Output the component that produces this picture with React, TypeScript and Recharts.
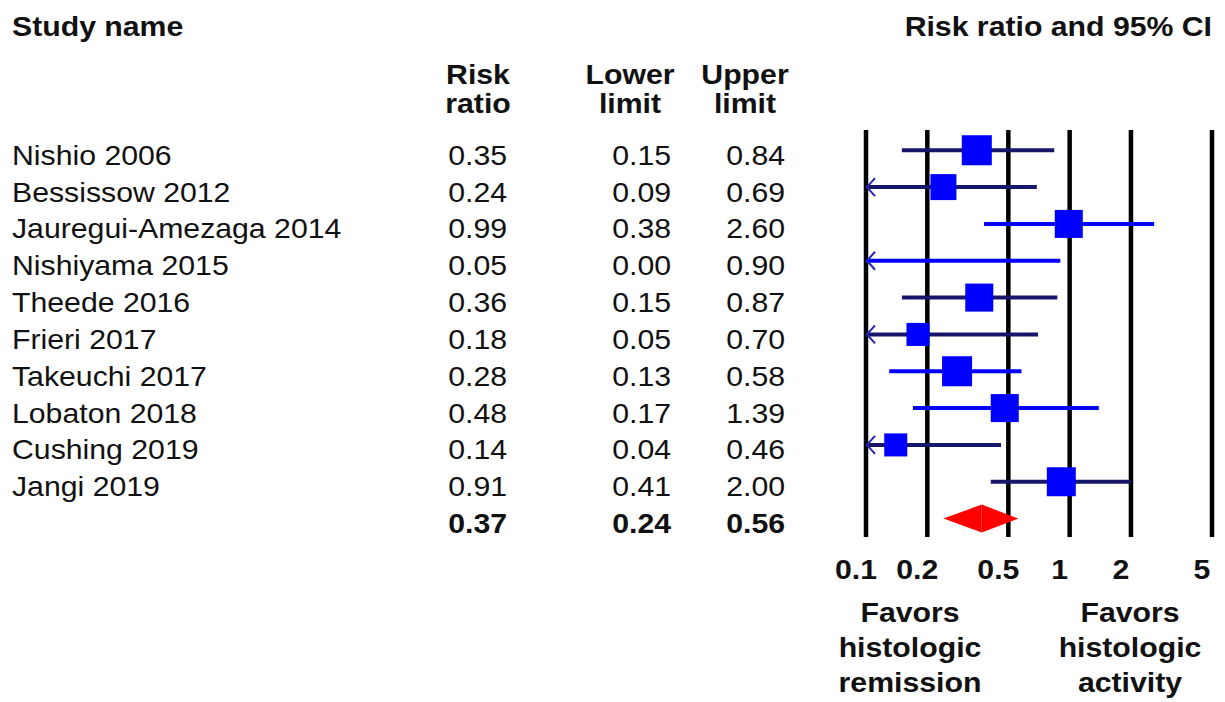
import React from 'react';
import {
  ComposedChart,
  Scatter,
  XAxis,
  YAxis,
  CartesianGrid,
  ReferenceLine,
} from 'recharts';

// study rows
const studyNames = [
  'Nishio 2006',
  'Bessissow 2012',
  'Jauregui-Amezaga 2014',
  'Nishiyama 2015',
  'Theede 2016',
  'Frieri 2017',
  'Takeuchi 2017',
  'Lobaton 2018',
  'Cushing 2019',
  'Jangi 2019',
];
const riskRatios = [0.35, 0.24, 0.99, 0.05, 0.36, 0.18, 0.28, 0.48, 0.14, 0.91];
const lowerLimits = [0.15, 0.09, 0.38, 0.0, 0.15, 0.05, 0.13, 0.17, 0.04, 0.41];
const upperLimits = [0.84, 0.69, 2.6, 0.9, 0.87, 0.7, 0.58, 1.39, 0.46, 2.0];
// relative study weights (%), drive the square size
const studyWeights = [13.1, 9.8, 11.4, 2.0, 11.4, 7.7, 13.1, 11.4, 7.7, 12.2];

// pooled estimate
const pooledRiskRatio = 0.37;
const pooledLower = 0.24;
const pooledUpper = 0.56;

const xTicks = [0.1, 0.2, 0.5, 1, 2, 5];

const X_MIN = 0.1;
const X_MAX = 5;
const FONT = "'Liberation Sans', Arial, Helvetica, sans-serif";
const SCALE_X = 1.08;
const BLUE = '#0000FF';
const NAVY = '#16166A';
// rows whose CI line looks darker in the original
const darkLineRows = [0, 1, 4, 5, 8, 9];

const summaryRow = studyNames.length;
const rowTicks = [...studyNames.map((_, i) => i), summaryRow];

const squares = riskRatios
  .map((rr, i) => ({ x: rr, y: i, w: studyWeights[i] }))
  .filter((d) => d.x >= X_MIN && d.x <= X_MAX);

const arrows = lowerLimits
  .map((lo, i) => ({ x: X_MIN, y: i, lo }))
  .filter((d) => d.lo < X_MIN);

function Label({ x, y, anchor = 'start', bold = false, children }: any) {
  return (
    <text
      transform={`translate(${x},${y}) scale(${SCALE_X},1)`}
      textAnchor={anchor}
      fontFamily={FONT}
      fontSize={28}
      fontWeight={bold ? 700 : 400}
      fill="#111"
    >
      {children}
    </text>
  );
}

function RowTick(props: any) {
  const { y, payload } = props;
  const i = payload.value;
  const isSummary = i === summaryRow;
  const rr = isSummary ? pooledRiskRatio : riskRatios[i];
  const lo = isSummary ? pooledLower : lowerLimits[i];
  const hi = isSummary ? pooledUpper : upperLimits[i];
  const base = y + 14.5;
  return (
    <g>
      {!isSummary && <Label x={12} y={base}>{studyNames[i]}</Label>}
      <Label x={507} y={base} anchor="end" bold={isSummary}>{rr.toFixed(2)}</Label>
      <Label x={671} y={base} anchor="end" bold={isSummary}>{lo.toFixed(2)}</Label>
      <Label x={785} y={base} anchor="end" bold={isSummary}>{hi.toFixed(2)}</Label>
    </g>
  );
}

function XTick(props: any) {
  const { x, y, payload } = props;
  return (
    <Label x={x - 10} y={y + 40} anchor="middle" bold>
      {String(payload.value)}
    </Label>
  );
}

function SquareShape(props: any) {
  const { cx, cy, payload } = props;
  const side = 8.3 * Math.sqrt(payload.w);
  return <rect x={cx - side / 2} y={cy - side / 2} width={side} height={side} fill={BLUE} />;
}

function ArrowShape(props: any) {
  const { cx, cy } = props;
  return (
    <path
      d={`M${cx + 9},${cy - 9} L${cx + 1},${cy} L${cx + 9},${cy + 9}`}
      stroke="#2424B8"
      strokeWidth={2}
      fill="none"
    />
  );
}

function DiamondLeft(props: any) {
  const { x1, y1, x2 } = props;
  return <polygon points={`${x1},${y1} ${x2},${y1 - 14} ${x2},${y1 + 14}`} fill="#FF0000" />;
}

function DiamondRight(props: any) {
  const { x1, y1, x2 } = props;
  return <polygon points={`${x1},${y1 - 14} ${x2},${y1} ${x1},${y1 + 14}`} fill="#FF0000" />;
}

export default function App() {
  return (
    <div style={{ position: 'absolute', left: 0, top: 0, width: 1225, height: 702, background: '#fff' }}>
      <ComposedChart width={1225} height={702} margin={{ top: 130, right: 13, bottom: 0, left: 0 }}>
        <CartesianGrid horizontal={false} stroke="#000" strokeWidth={4.5} />
        <XAxis
          dataKey="x"
          type="number"
          scale="log"
          domain={[X_MIN, X_MAX]}
          ticks={xTicks}
          interval={0}
          allowDataOverflow
          height={165}
          axisLine={false}
          tickLine={false}
          tickSize={0}
          tick={<XTick />}
        />
        <YAxis
          dataKey="y"
          type="number"
          domain={[-0.55, 10.5]}
          reversed
          ticks={rowTicks}
          interval={0}
          allowDataOverflow
          width={866}
          axisLine={false}
          tickLine={false}
          tickSize={0}
          tick={<RowTick />}
        />
        {studyNames.map((name, i) => (
          <ReferenceLine
            key={name}
            ifOverflow="visible"
            segment={[
              { x: Math.max(lowerLimits[i], X_MIN), y: i },
              { x: Math.min(upperLimits[i], X_MAX), y: i },
            ]}
            stroke={darkLineRows.includes(i) ? NAVY : BLUE}
            strokeWidth={4}
          />
        ))}
        <Scatter data={arrows} shape={<ArrowShape />} isAnimationActive={false} />
        <Scatter data={squares} shape={<SquareShape />} isAnimationActive={false} />
        <ReferenceLine
          ifOverflow="visible"
          segment={[
            { x: pooledLower, y: summaryRow },
            { x: pooledRiskRatio, y: summaryRow },
          ]}
          shape={DiamondLeft}
        />
        <ReferenceLine
          ifOverflow="visible"
          segment={[
            { x: pooledRiskRatio, y: summaryRow },
            { x: pooledUpper, y: summaryRow },
          ]}
          shape={DiamondRight}
        />
      </ComposedChart>
      <svg
        width={1225}
        height={702}
        style={{ position: 'absolute', left: 0, top: 0, pointerEvents: 'none' }}
      >
        <Label x={12} y={36} bold>Study name</Label>
        <Label x={1212} y={36} anchor="end" bold>Risk ratio and 95% CI</Label>
        <Label x={478} y={84} anchor="middle" bold>Risk</Label>
        <Label x={478} y={113} anchor="middle" bold>ratio</Label>
        <Label x={630} y={84} anchor="middle" bold>Lower</Label>
        <Label x={630} y={113} anchor="middle" bold>limit</Label>
        <Label x={745} y={84} anchor="middle" bold>Upper</Label>
        <Label x={745} y={113} anchor="middle" bold>limit</Label>
        <Label x={910} y={622} anchor="middle" bold>Favors</Label>
        <Label x={910} y={657} anchor="middle" bold>histologic</Label>
        <Label x={910} y={692} anchor="middle" bold>remission</Label>
        <Label x={1130} y={622} anchor="middle" bold>Favors</Label>
        <Label x={1130} y={657} anchor="middle" bold>histologic</Label>
        <Label x={1130} y={692} anchor="middle" bold>activity</Label>
      </svg>
    </div>
  );
}
